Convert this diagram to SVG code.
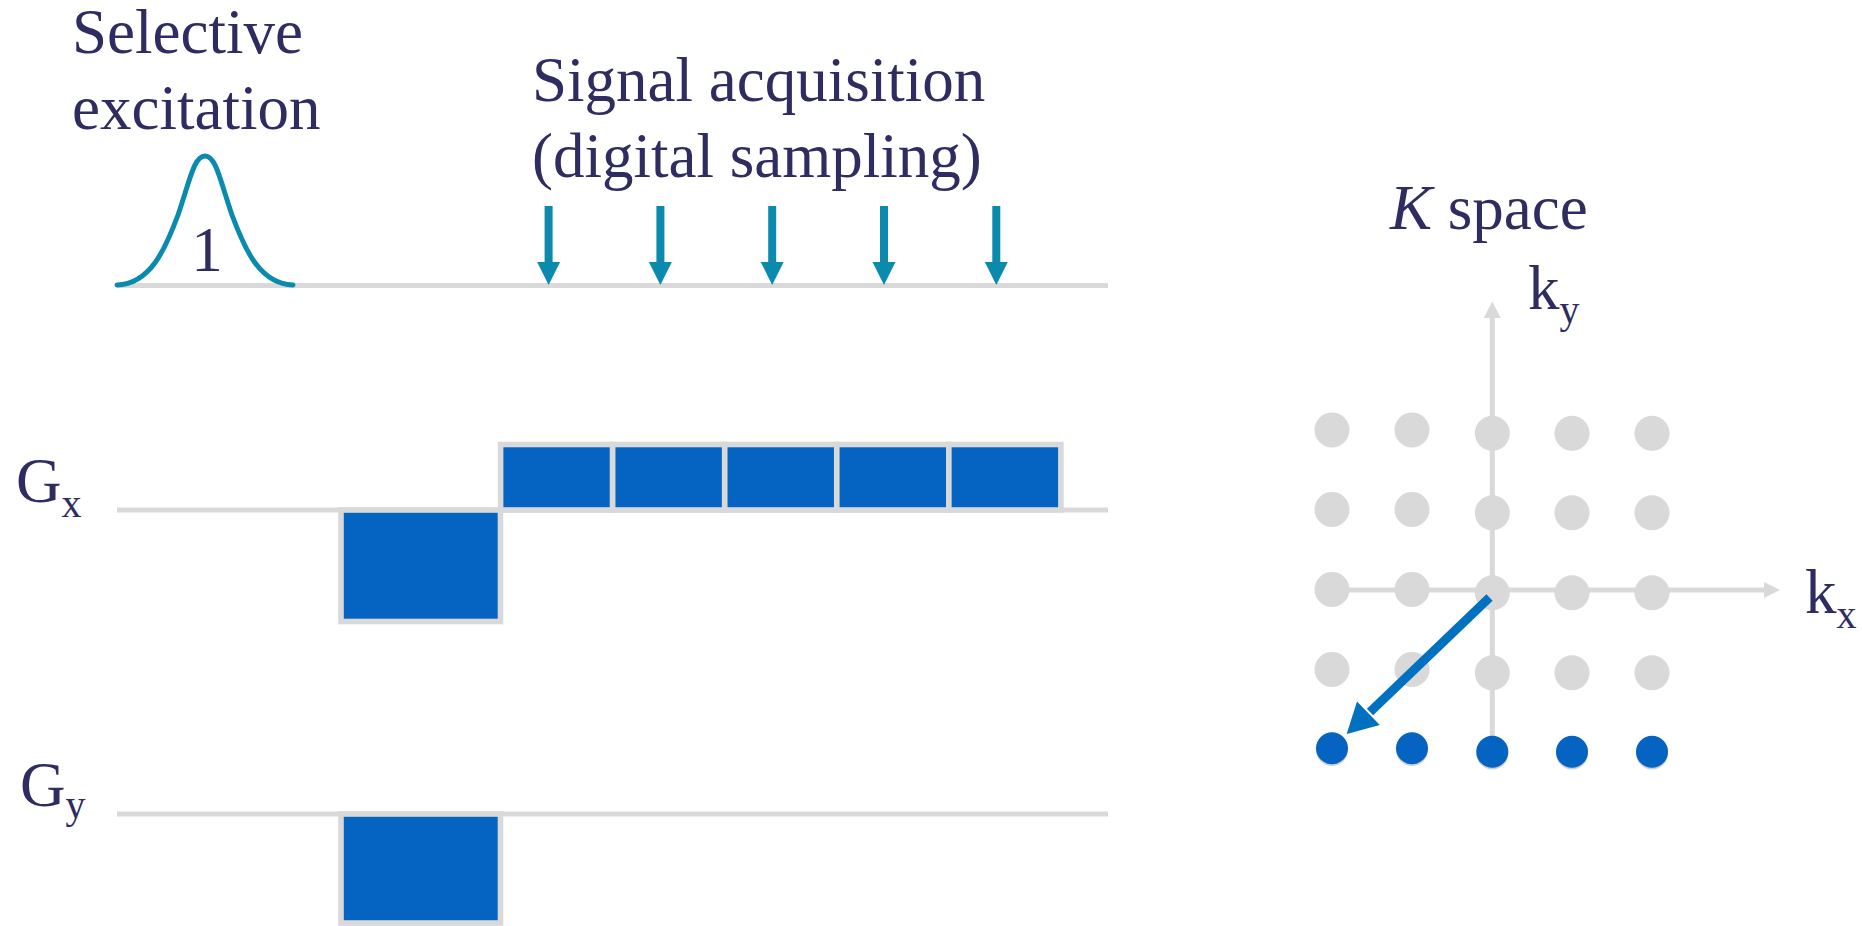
<svg xmlns="http://www.w3.org/2000/svg" xmlns:xlink="http://www.w3.org/1999/xlink" width="1862" height="926" viewBox="0 0 1862 926">
<style>
  .t{font-family:"Liberation Serif","Times New Roman",serif;font-size:63px;fill:#2f2c62}
  .sub{font-size:40px}
  .base{stroke:#d9d9d9;stroke-width:5;fill:none}
  .blk{fill:#0563c1;stroke:#d9d9d9;stroke-width:5.6}
  .teal{fill:#0a8bad}
  .gdot{fill:#d9d9d9}
  .bdot{fill:#0563c1}
  .shadow{fill:#d0d0d0}
  .axis{stroke:#d9d9d9;stroke-width:5;fill:none}
  .axhead{fill:#d9d9d9}
</style>
<defs>
  <g id="samp">
    <rect x="-4" y="206" width="8" height="58" class="teal"/>
    <polygon points="-11.5,262 11.5,262 0,285" class="teal"/>
  </g>
</defs>
<rect width="1862" height="926" fill="#ffffff"/>

<g id="labels">
  <text class="t" x="72" y="53">Selective</text>
  <text class="t" x="72" y="129">excitation</text>
  <text class="t" x="532" y="101">Signal acquisition</text>
  <text class="t" x="532" y="177">(digital sampling)</text>
  <text class="t" x="1390" y="229"><tspan font-style="italic">K</tspan> space</text>
</g>

<g id="rf-line">
  <line class="base" x1="117" y1="285.5" x2="1108" y2="285.5"/>
</g>
<g id="gx-line">
  <line class="base" x1="117" y1="510" x2="1108" y2="510"/>
  <text class="t" x="16" y="502">G<tspan class="sub" y="517">x</tspan></text>
</g>
<g id="gy-line">
  <line class="base" x1="117" y1="814" x2="1108" y2="814"/>
  <text class="t" x="20" y="806">G<tspan class="sub" y="818">y</tspan></text>
</g>

<g id="rf-pulse">
  <path d="M117,285 C150,284 165,250 178,215 C190,180 194,156 205,156 C216,156 220,180 232,215 C245,250 260,284 293,285" fill="none" stroke="#0a8bad" stroke-width="5" stroke-linecap="round"/>
  <text class="t" x="207" y="271" text-anchor="middle">1</text>
</g>

<g id="gx-prephase">
  <rect class="blk" x="341" y="510" width="159.5" height="111.5"/>
</g>
<g id="gx-readout">
  <rect class="blk" x="500.6" y="444.5" width="112.06" height="65.5"/>
  <rect class="blk" x="612.66" y="444.5" width="112.06" height="65.5"/>
  <rect class="blk" x="724.72" y="444.5" width="112.06" height="65.5"/>
  <rect class="blk" x="836.78" y="444.5" width="112.06" height="65.5"/>
  <rect class="blk" x="948.84" y="444.5" width="112.06" height="65.5"/>
</g>
<g id="gy-phase">
  <rect class="blk" x="341" y="814" width="159.5" height="109"/>
</g>

<g id="kspace-axes">
  <line class="axis" x1="1492.3" y1="752" x2="1492.3" y2="316"/>
  <polygon class="axhead" points="1483.8,318 1500.8,318 1492.3,301.5"/>
  <line class="axis" x1="1320" y1="590" x2="1766" y2="590"/>
  <polygon class="axhead" points="1764,582 1764,598 1780,590"/>
  <text class="t" x="1528" y="309">k<tspan class="sub" y="323">y</tspan></text>
  <text class="t" x="1805" y="613">k<tspan class="sub" y="628">x</tspan></text>
</g>

<g id="kspace-grid">
  <circle class="gdot" cx="1332" cy="430" r="17.5"/>
  <circle class="gdot" cx="1412" cy="430" r="17.5"/>
  <circle class="gdot" cx="1492.3" cy="433.3" r="17.5"/>
  <circle class="gdot" cx="1572" cy="433.3" r="17.5"/>
  <circle class="gdot" cx="1652" cy="433.3" r="17.5"/>
  <circle class="gdot" cx="1332" cy="509.5" r="17.5"/>
  <circle class="gdot" cx="1412" cy="509.5" r="17.5"/>
  <circle class="gdot" cx="1492.3" cy="512.8" r="17.5"/>
  <circle class="gdot" cx="1572" cy="512.8" r="17.5"/>
  <circle class="gdot" cx="1652" cy="512.8" r="17.5"/>
  <circle class="gdot" cx="1332" cy="589.5" r="17.5"/>
  <circle class="gdot" cx="1412" cy="589.5" r="17.5"/>
  <circle class="gdot" cx="1492.3" cy="592.8" r="17.5"/>
  <circle class="gdot" cx="1572" cy="592.8" r="17.5"/>
  <circle class="gdot" cx="1652" cy="592.8" r="17.5"/>
  <circle class="gdot" cx="1332" cy="669.5" r="17.5"/>
  <circle class="gdot" cx="1412" cy="669.5" r="17.5"/>
  <circle class="gdot" cx="1492.3" cy="672.8" r="17.5"/>
  <circle class="gdot" cx="1572" cy="672.8" r="17.5"/>
  <circle class="gdot" cx="1652" cy="672.8" r="17.5"/>
</g>
<g id="kspace-row">
  <circle class="shadow" cx="1332" cy="750" r="16"/>
  <circle class="shadow" cx="1412" cy="750" r="16"/>
  <circle class="shadow" cx="1492.3" cy="753.5" r="16"/>
  <circle class="shadow" cx="1572" cy="753.5" r="16"/>
  <circle class="shadow" cx="1652" cy="753.5" r="16"/>
  <circle class="bdot" cx="1332" cy="748.3" r="16"/>
  <circle class="bdot" cx="1412" cy="748.3" r="16"/>
  <circle class="bdot" cx="1492.3" cy="751.7" r="16"/>
  <circle class="bdot" cx="1572" cy="751.7" r="16"/>
  <circle class="bdot" cx="1652" cy="751.7" r="16"/>
</g>

<g id="connectors">
  <use xlink:href="#samp" href="#samp" x="548.6" y="0"/>
  <use xlink:href="#samp" href="#samp" x="660.4" y="0"/>
  <use xlink:href="#samp" href="#samp" x="772.2" y="0"/>
  <use xlink:href="#samp" href="#samp" x="884" y="0"/>
  <use xlink:href="#samp" href="#samp" x="996.3" y="0"/>
  <line x1="1489.5" y1="597.5" x2="1370" y2="712" stroke="#0070c0" stroke-width="9"/>
  <polygon points="1346.7,734 1357,701.5 1379.8,725.1" fill="#0070c0"/>
</g>
</svg>
